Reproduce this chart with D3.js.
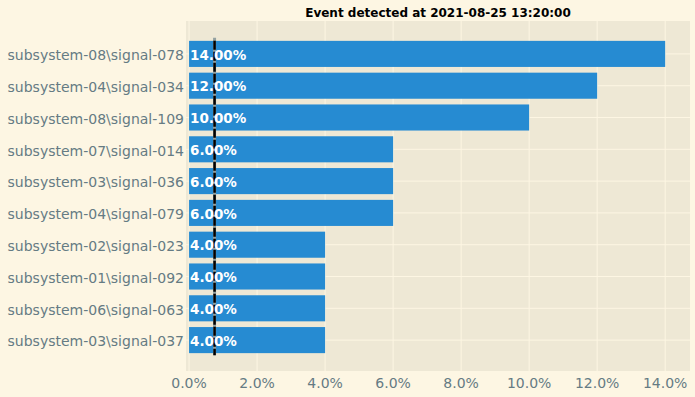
<!DOCTYPE html>
<html>
<head>
<meta charset="utf-8">
<script src="https://cdn.jsdelivr.net/npm/d3@7"></script>
<style>
  body { margin: 0; background: #fdf6e3; }
  svg { display: block; font-family: "DejaVu Sans", sans-serif; }
</style>
</head>
<body>
<div id="chart"></div>
<script>
// chart data
const signals = [
  'subsystem-08\\signal-078',
  'subsystem-04\\signal-034',
  'subsystem-08\\signal-109',
  'subsystem-07\\signal-014',
  'subsystem-03\\signal-036',
  'subsystem-04\\signal-079',
  'subsystem-02\\signal-023',
  'subsystem-01\\signal-092',
  'subsystem-06\\signal-063',
  'subsystem-03\\signal-037'
];
const shares = [14, 12, 10, 6, 6, 6, 4, 4, 4, 4];
const xTicks = [0, 2, 4, 6, 8, 10, 12, 14];
const threshold = 0.75;
const title = 'Event detected at 2021-08-25 13:20:00';

const width = 695;
const height = 397;
const plot = {left: 186, right: 690, top: 21, bottom: 371};

// x scale: 0% at 189px, 14% at 665px
const x = d3.scaleLinear()
  .domain([-0.09, 14.73])
  .range([plot.left, plot.right]);

const y = d3.scaleBand()
  .domain(signals)
  .range([plot.top + 17, plot.bottom - 15])
  .paddingInner(0.18)
  .paddingOuter(0.09);

const svg = d3.select('#chart')
  .append('svg')
  .attr('width', width)
  .attr('height', height);

svg.append('rect')
  .attr('width', width)
  .attr('height', height)
  .attr('fill', '#fdf6e3');

// axes background
svg.append('rect')
  .attr('x', plot.left)
  .attr('y', plot.top)
  .attr('width', plot.right - plot.left)
  .attr('height', plot.bottom - plot.top)
  .attr('fill', '#eee8d5');

// grid lines
svg.append('g')
  .selectAll('line')
  .data(xTicks)
  .enter()
  .append('line')
  .attr('x1', d => x(d)).attr('x2', d => x(d))
  .attr('y1', plot.top).attr('y2', plot.bottom)
  .attr('stroke', '#fdf6e3')
  .attr('stroke-width', 1);

svg.append('g')
  .selectAll('line')
  .data(signals)
  .enter()
  .append('line')
  .attr('x1', plot.left).attr('x2', plot.right)
  .attr('y1', d => y(d) + y.bandwidth() / 2)
  .attr('y2', d => y(d) + y.bandwidth() / 2)
  .attr('stroke', '#fdf6e3')
  .attr('stroke-width', 1);

// bars
svg.append('g')
  .selectAll('rect')
  .data(shares)
  .enter()
  .append('rect')
  .attr('x', x(0))
  .attr('y', (d, i) => y(signals[i]))
  .attr('width', d => x(d) - x(0))
  .attr('height', y.bandwidth())
  .attr('fill', '#268bd2');

// threshold line
const tY1 = y(signals[0]) - 3;
const tY2 = y(signals[signals.length - 1]) + y.bandwidth() + 2;
svg.append('line')
  .attr('x1', x(threshold)).attr('x2', x(threshold))
  .attr('y1', tY1).attr('y2', tY2)
  .attr('stroke', '#93a1a1')
  .attr('stroke-width', 3);
svg.append('line')
  .attr('x1', x(threshold)).attr('x2', x(threshold))
  .attr('y1', tY1 + 3).attr('y2', tY2)
  .attr('stroke', '#000')
  .attr('stroke-width', 2.5)
  .attr('stroke-dasharray', '9,2');

// value labels
svg.append('g')
  .selectAll('text')
  .data(shares)
  .enter()
  .append('text')
  .attr('x', x(0) + 1)
  .attr('y', (d, i) => y(signals[i]) + y.bandwidth() / 2)
  .attr('dy', '0.42em')
  .attr('fill', '#fff')
  .attr('font-weight', 'bold')
  .attr('font-size', 13.5)
  .text(d => d.toFixed(2) + '%');

// y labels
svg.append('g')
  .selectAll('text')
  .data(signals)
  .enter()
  .append('text')
  .attr('x', plot.left - 2)
  .attr('y', d => y(d) + y.bandwidth() / 2)
  .attr('dy', '0.45em')
  .attr('text-anchor', 'end')
  .attr('fill', '#657b83')
  .attr('font-size', 14)
  .text(d => d);

// x tick labels
svg.append('g')
  .selectAll('text')
  .data(xTicks)
  .enter()
  .append('text')
  .attr('x', d => x(d))
  .attr('y', plot.bottom + 17)
  .attr('text-anchor', 'middle')
  .attr('fill', '#657b83')
  .attr('font-size', 14)
  .text(d => d.toFixed(1) + '%');

// title
svg.append('text')
  .attr('x', (plot.left + plot.right) / 2)
  .attr('y', 17)
  .attr('text-anchor', 'middle')
  .attr('font-weight', 'bold')
  .attr('font-size', 12)
  .attr('fill', '#000')
  .text(title);
</script>
</body>
</html>
